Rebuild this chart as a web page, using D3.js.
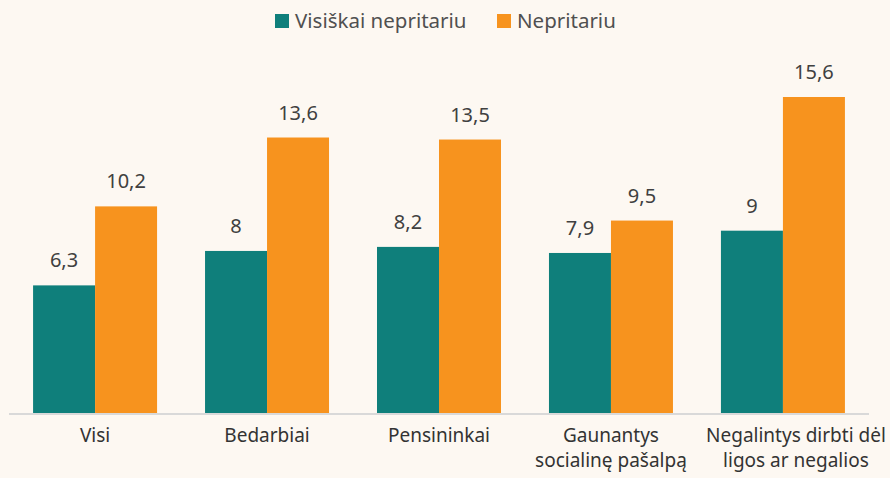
<!DOCTYPE html>
<html>
<head>
<meta charset="utf-8">
<script src="https://cdn.jsdelivr.net/npm/d3@7"></script>
<style>
  body { margin: 0; background: #fdf8f2; }
  svg { font-family: "Noto Sans", sans-serif; }
</style>
</head>
<body>
<svg width="890" height="478"></svg>
<script>
// data
const categories = [
  ["Visi"],
  ["Bedarbiai"],
  ["Pensininkai"],
  ["Gaunantys", "socialinę pašalpą"],
  ["Negalintys dirbti dėl", "ligos ar negalios"]
];
const seriesNames = ["Visiškai nepritariu", "Nepritariu"];
const fullyDisagree = [6.3, 8, 8.2, 7.9, 9];
const disagree = [10.2, 13.6, 13.5, 9.5, 15.6];
const colors = ["#0f7f7b", "#f7931e"];

const svg = d3.select("svg");
const margin = { left: 9, right: 21, top: 97, bottom: 65 };
const width = +svg.attr("width");
const height = +svg.attr("height");
const baseY = height - margin.bottom;

const x = d3.scaleBand()
  .domain(d3.range(categories.length))
  .range([margin.left, width - margin.right])
  .paddingInner(0.279)
  .paddingOuter(0.14);

const xs = d3.scaleBand()
  .domain([0, 1])
  .range([0, x.bandwidth()]);

const y = d3.scaleLinear()
  .domain([0, 15.6])
  .range([baseY, margin.top]);

const rows = categories.map((c, i) => ({ i, vals: [fullyDisagree[i], disagree[i]] }));

// bars
const group = svg.append("g").selectAll("g")
  .data(rows)
  .enter().append("g")
  .attr("transform", (d) => `translate(${x(d.i)},0)`);

group.selectAll("rect")
  .data((d) => d.vals)
  .enter().append("rect")
  .attr("x", (d, j) => xs(j))
  .attr("y", (d) => y(d))
  .attr("width", xs.bandwidth())
  .attr("height", (d) => baseY - y(d))
  .attr("fill", (d, j) => colors[j]);

group.selectAll("text")
  .data((d) => d.vals)
  .enter().append("text")
  .attr("x", (d, j) => xs(j) + xs.bandwidth() / 2)
  .attr("y", (d) => y(d) - 18)
  .attr("text-anchor", "middle")
  .attr("font-size", 20)
  .attr("fill", "#404040")
  .text((d) => String(d).replace(".", ","));

// axis line
svg.append("line")
  .attr("x1", margin.left)
  .attr("x2", width - margin.right)
  .attr("y1", baseY + 1)
  .attr("y2", baseY + 1)
  .attr("stroke", "#d9d9d9")
  .attr("stroke-width", 2);

// category labels (last one nudged right like the original)
const labelX = (i) => x(i) + x.bandwidth() / 2 + (i === categories.length - 1 ? 13 : 0);

const labels = svg.append("g").selectAll("text")
  .data(categories)
  .enter().append("text")
  .attr("text-anchor", "middle")
  .attr("font-size", 19)
  .attr("fill", "#333333")
  .attr("x", (d, i) => labelX(i))
  .attr("y", baseY + 29);

labels.selectAll("tspan")
  .data((d) => d)
  .enter().append("tspan")
  .attr("x", function () { return this.parentNode.getAttribute("x"); })
  .attr("dy", (d, i) => (i === 0 ? 0 : 25))
  .text((d) => d);

// legend
const legend = svg.append("g");
const legendX = [275, 497];
const item = legend.selectAll("g")
  .data(seriesNames)
  .enter().append("g")
  .attr("transform", (d, i) => `translate(${legendX[i]},14)`);

item.append("rect")
  .attr("width", 14)
  .attr("height", 14)
  .attr("fill", (d, i) => colors[i]);

item.append("text")
  .attr("x", 20)
  .attr("y", 14)
  .attr("font-size", 20.5)
  .attr("fill", "#505050")
  .text((d) => d);
</script>
</body>
</html>
